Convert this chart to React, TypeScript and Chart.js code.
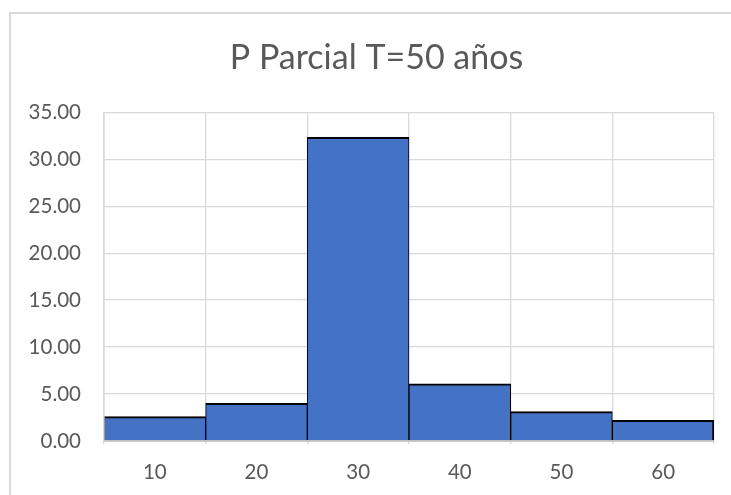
import React, { useEffect, useRef } from "react";
import { Chart, registerables } from "chart.js";

Chart.register(...registerables);

const titleText = "P Parcial T=50 años";
const categories = ["10", "20", "30", "40", "50", "60"];
const values = [2.59, 4.01, 32.34, 6.1, 3.12, 2.2];
const yMin = 0;
const yMax = 35;
const yStep = 5;

const chartTitlePlugin = {
  id: "chartTitle",
  afterDraw(chart: any) {
    const { ctx } = chart;
    ctx.save();
    ctx.font = "normal 34px Lato";
    ctx.fillStyle = "#595959";
    ctx.textAlign = "center";
    ctx.textBaseline = "alphabetic";
    ctx.fillText(titleText, 376.5, 69);
    ctx.restore();
  },
};

const axisLinePlugin = {
  id: "axisLines",
  afterDatasetsDraw(chart: any) {
    const { ctx, chartArea } = chart;
    ctx.save();
    ctx.strokeStyle = "#d9d9d9";
    ctx.lineWidth = 1.3;
    ctx.beginPath();
    ctx.moveTo(chartArea.left, chartArea.top);
    ctx.lineTo(chartArea.left, chartArea.bottom);
    ctx.stroke();
    ctx.strokeStyle = "#bfbfbf";
    ctx.lineWidth = 1.5;
    ctx.beginPath();
    ctx.moveTo(chartArea.left, chartArea.bottom);
    ctx.lineTo(chartArea.right, chartArea.bottom);
    ctx.stroke();
    ctx.restore();
  },
};

export default function App() {
  const ref = useRef<HTMLCanvasElement | null>(null);

  useEffect(() => {
    if (!ref.current) return;
    const chart = new Chart(ref.current, {
      type: "bar",
      data: {
        labels: categories,
        datasets: [
          {
            data: values,
            backgroundColor: "#4472C4",
            borderColor: "#000000",
            borderWidth: (c: any) => ({
              top: 2,
              left: 1,
              right: c.dataIndex === values.length - 1 ? 2 : 1,
              bottom: 0,
            }),
            barPercentage: 1,
            categoryPercentage: 1,
          },
        ],
      },
      options: {
        responsive: false,
        animation: false,
        devicePixelRatio: 1,
        layout: { padding: { left: 0, right: 17, top: 112.3, bottom: 0 } },
        plugins: {
          legend: { display: false },
          tooltip: { enabled: false },
          title: { display: false },
        },
        scales: {
          x: {
            offset: true,
            grid: {
              offset: true,
              color: "#d9d9d9",
              lineWidth: 1.3,
              drawTicks: true,
              tickLength: 3,
              tickColor: "#d9d9d9",
            },
            border: { display: false },
            ticks: {
              color: "#595959",
              font: { family: "Lato", size: 20.5 },
              padding: 16,
              maxRotation: 0,
            },
            afterFit: (s: any) => {
              s.height = 54;
            },
          },
          y: {
            min: yMin,
            max: yMax,
            grid: { color: "#d9d9d9", lineWidth: 1.3, drawTicks: false },
            border: { display: false },
            ticks: {
              stepSize: yStep,
              color: "#595959",
              font: { family: "Lato", size: 20.5 },
              padding: 23,
              callback: (v: any) => Number(v).toFixed(2),
            },
            afterFit: (s: any) => {
              s.width = 104;
            },
          },
        },
      },
      plugins: [axisLinePlugin, chartTitlePlugin],
    } as any);
    return () => chart.destroy();
  }, []);

  return (
    <div
      style={{
        position: "fixed",
        left: 0,
        top: 0,
        width: 731,
        height: 495,
        overflow: "hidden",
        background: "#ffffff",
      }}
    >
      <div
        style={{
          position: "absolute",
          left: 9,
          top: 12,
          width: 736,
          height: 520,
          border: "2px solid #d9d9d9",
          boxSizing: "border-box",
        }}
      />
      <canvas
        ref={ref}
        width={731}
        height={495}
        style={{ position: "absolute", left: 0, top: 0, width: 731, height: 495 }}
      />
    </div>
  );
}
